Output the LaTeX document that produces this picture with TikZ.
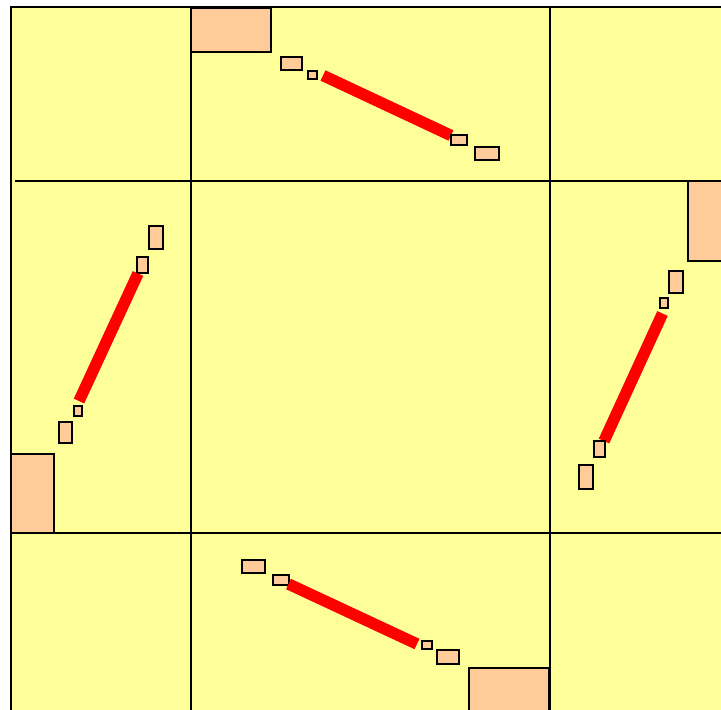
\documentclass[tikz,border=0pt]{standalone}
\usepackage{tikz}
\usepackage{xcolor}
\definecolor{paleyellow}{RGB}{255,255,153}
\definecolor{peach}{RGB}{255,204,153}

\begin{document}
\begin{tikzpicture}[x=1pt,y=-1pt,box/.style={draw=black,fill=peach,line width=1.5pt},bar/.style={red,line width=11.5pt},rule/.style={black,line width=1.6pt}]
\useasboundingbox (0,0) rectangle (721,710);
\begin{scope}
\clip (0,0) rectangle (721,710);
\fill[paleyellow] (11,7) rectangle (735,715);
% frame and cells
\draw[rule] (11,715) -- (11,7) -- (735,7);
\draw[rule] (15,181) -- (735,181);
\draw[rule] (11,533) -- (735,533);
\draw[rule] (191,8) -- (191,715);
\draw[rule] (550,7) -- (550,715);
% top cell
\draw[box] (191,8) rectangle (271,52);
\draw[box] (281,57) rectangle (302,70);
\draw[box] (308,71) rectangle (317,79);
\draw[bar] (323,75.5) -- (451,135.5);
\draw[box] (451,135) rectangle (467,145);
\draw[box] (475,147) rectangle (499,160);
% left cell
\draw[box] (149,226) rectangle (163,249);
\draw[box] (137,257) rectangle (148,273);
\draw[bar] (138,273.5) -- (79,401);
\draw[box] (74,406) rectangle (82,416);
\draw[box] (59,422) rectangle (72,443);
\draw[box] (11,454) rectangle (54,533);
% right cell
\draw[box] (688,181) rectangle (731,261);
\draw[box] (669,271) rectangle (683,293);
\draw[box] (660,298) rectangle (668,308);
\draw[bar] (662.5,313.5) -- (604,441);
\draw[box] (594,441) rectangle (605,457);
\draw[box] (579,465) rectangle (593,489);
% bottom cell
\draw[box] (242,560) rectangle (265,573);
\draw[box] (273,575) rectangle (289,585);
\draw[bar] (288.5,584) -- (417,644);
\draw[box] (422,641) rectangle (432,649);
\draw[box] (437,650) rectangle (459,664);
\draw[box] (469,668) rectangle (549,712);
\end{scope}
\end{tikzpicture}
\end{document}
